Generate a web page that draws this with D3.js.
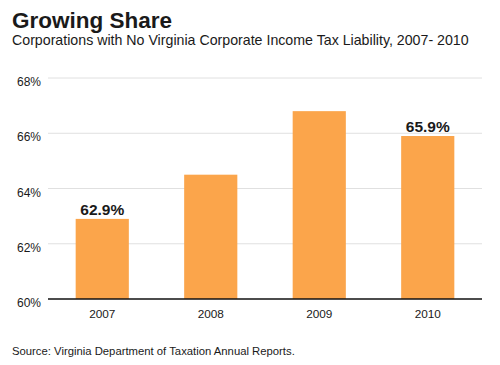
<!DOCTYPE html>
<html>
<head>
<meta charset="utf-8">
<script src="https://cdn.jsdelivr.net/npm/d3@7"></script>
<style>
  body { margin: 0; background: #fff; }
  text { font-family: "Liberation Sans", Arial, sans-serif; fill: #1a1a1a; }
</style>
</head>
<body>
<div id="chart"></div>
<script>
const years = ["2007", "2008", "2009", "2010"];
const shares = [62.9, 64.5, 66.8, 65.9];
const labelled = [true, false, false, true];
const yTicks = [60, 62, 64, 66, 68];

const width = 500, height = 365;
const margin = { top: 78, right: 18, bottom: 66, left: 48 };

const svg = d3.select("#chart").append("svg")
  .attr("width", width)
  .attr("height", height);

svg.append("text")
  .attr("x", 12).attr("y", 28)
  .attr("font-size", 22.5).attr("font-weight", "bold")
  .text("Growing Share");

svg.append("text")
  .attr("x", 12).attr("y", 45)
  .attr("font-size", 14.2)
  .text("Corporations with No Virginia Corporate Income Tax Liability, 2007- 2010");

svg.append("text")
  .attr("x", 12).attr("y", 355)
  .attr("font-size", 11.3)
  .text("Source: Virginia Department of Taxation Annual Reports.");

const x = d3.scaleBand()
  .domain(years)
  .range([margin.left, width - margin.right])
  .paddingInner(0.51)
  .paddingOuter(0.255);

const y = d3.scaleLinear()
  .domain([60, 68])
  .range([height - margin.bottom, margin.top]);

// grid lines
svg.append("g")
  .selectAll("line")
  .data(yTicks.slice(1))
  .join("line")
  .attr("x1", margin.left).attr("x2", width - margin.right)
  .attr("y1", d => y(d)).attr("y2", d => y(d))
  .attr("stroke", "#e0e0e0").attr("stroke-width", 1);

// y labels
svg.append("g")
  .selectAll("text")
  .data(yTicks)
  .join("text")
  .attr("x", 41).attr("y", d => y(d) + 8)
  .attr("text-anchor", "end")
  .attr("font-size", 12)
  .text(d => d + "%");

svg.append("g")
  .selectAll("rect")
  .data(years)
  .join("rect")
  .attr("x", d => x(d))
  .attr("width", x.bandwidth())
  .attr("y", (d, i) => y(shares[i]))
  .attr("height", (d, i) => y(60) - y(shares[i]))
  .attr("fill", "#fba54b");

// baseline
svg.append("line")
  .attr("x1", margin.left).attr("x2", width - margin.right)
  .attr("y1", y(60)).attr("y2", y(60))
  .attr("stroke", "#111").attr("stroke-width", 1.5);

// x labels
svg.append("g")
  .selectAll("text")
  .data(years)
  .join("text")
  .attr("x", d => x(d) + x.bandwidth() / 2)
  .attr("y", y(60) + 19)
  .attr("text-anchor", "middle")
  .attr("font-size", 11.8)
  .text(d => d);

// value labels
svg.append("g")
  .selectAll("text")
  .data(years.filter((d, i) => labelled[i]))
  .join("text")
  .attr("x", d => x(d) + x.bandwidth() / 2)
  .attr("y", d => y(shares[years.indexOf(d)]) - 4)
  .attr("text-anchor", "middle")
  .attr("font-size", 15.5).attr("font-weight", "bold")
  .text(d => shares[years.indexOf(d)].toFixed(1) + "%");
</script>
</body>
</html>
